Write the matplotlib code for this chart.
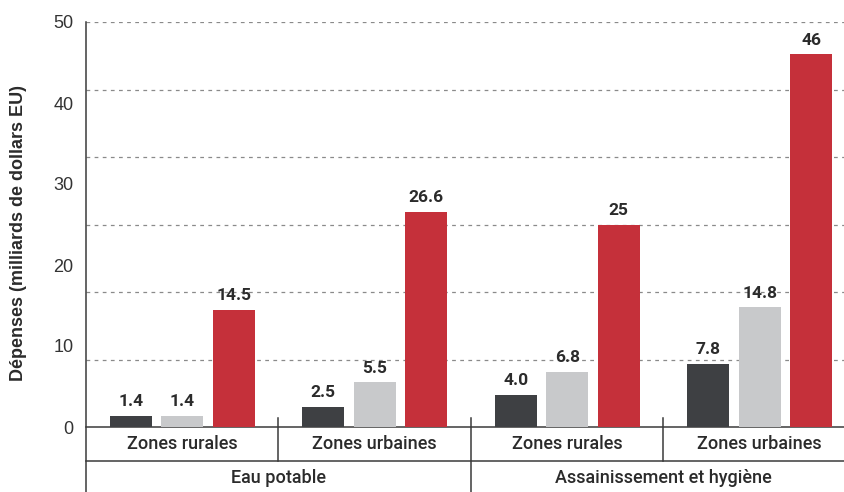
import matplotlib
matplotlib.use("Agg")
import matplotlib.pyplot as plt
import numpy as np

# Data
sectors = ["Eau potable", "Assainissement et hygiène"]
zones = ["Zones rurales", "Zones urbaines", "Zones rurales", "Zones urbaines"]
series_a = [1.4, 2.5, 4.0, 7.8]
series_b = [1.4, 5.5, 6.8, 14.8]
series_c = [14.5, 26.6, 25, 46]
labels_a = ["1.4", "2.5", "4.0", "7.8"]
labels_b = ["1.4", "5.5", "6.8", "14.8"]
labels_c = ["14.5", "26.6", "25", "46"]
yticks = [0, 10, 20, 30, 40, 50]

colors = ["#3e4043", "#c8c9cb", "#c5303a"]

W, H = 845, 492
fig = plt.figure(figsize=(W / 100, H / 100), dpi=100)
ax_left, ax_right, ax_bottom, ax_top = 86, 856, 427, 22
ax = fig.add_axes([ax_left / W, 1 - ax_bottom / H,
                   (ax_right - ax_left) / W, (ax_bottom - ax_top) / H])

x = np.arange(len(zones)) + 0.5
bw = 0.218
off = 0.267
for i, (vals, labs) in enumerate(zip([series_a, series_b, series_c],
                                     [labels_a, labels_b, labels_c])):
    xs = x + (i - 1) * off
    ax.bar(xs, vals, width=bw, color=colors[i], zorder=3)
    for xi, v, t in zip(xs, vals, labs):
        ax.text(xi, v + 0.8, t, ha="center", va="bottom",
                fontsize=12.5, fontweight="bold", family="Roboto",
                color="#2b2b2b", zorder=4)

ax.set_xlim(0, 4)
ax.set_ylim(0, 50)

# dashed horizontal guides
for k in range(1, 7):
    ax.axhline(50 / 6 * k, color="#8a8a8a", lw=0.9, ls=(0, (3, 3.5)), zorder=1)

ax.set_yticks(yticks)
ax.set_yticklabels([str(t) for t in yticks], family="Liberation Sans",
                   fontsize=13, color="#333333")
ax.tick_params(axis="y", length=0, pad=9)
ax.set_xticks([])
for s in ["top", "right", "bottom", "left"]:
    ax.spines[s].set_visible(False)

ax.set_ylabel("Dépenses (milliards de dollars EU)", family="Liberation Sans",
              fontsize=13, fontweight="bold", color="#2b2b2b")
ax.yaxis.set_label_coords((27 - ax_left) / (ax_right - ax_left), 0.48)

# category table below the axis
ph = (ax_bottom - ax_top)
def ay(py):
    return (ax_bottom - py) / ph

line_kw = dict(transform=ax.transAxes, clip_on=False, color="#3a3a3a", lw=1.1)
ax.plot([0, 1], [0, 0], **line_kw)
ax.plot([0, 1], [ay(461), ay(461)], **line_kw)
ax.plot([0, 0], [ay(492), 1], **line_kw)
ax.plot([0.5, 0.5], [ay(492), ay(418)], **line_kw)
ax.plot([0.25, 0.25], [ay(461), ay(418)], **line_kw)
ax.plot([0.75, 0.75], [ay(461), ay(418)], **line_kw)

for xi, z in zip(x, zones):
    ax.text(xi / 4, ay(444), z, transform=ax.transAxes, ha="center", va="center",
            fontsize=13, family="Roboto", fontweight="medium", color="#2b2b2b")
for j, s in enumerate(sectors):
    ax.text(0.25 + 0.5 * j, ay(478), s, transform=ax.transAxes, ha="center",
            va="center", fontsize=13, family="Roboto", fontweight="medium",
            color="#2b2b2b")

fig.savefig("out.png", dpi=100)
